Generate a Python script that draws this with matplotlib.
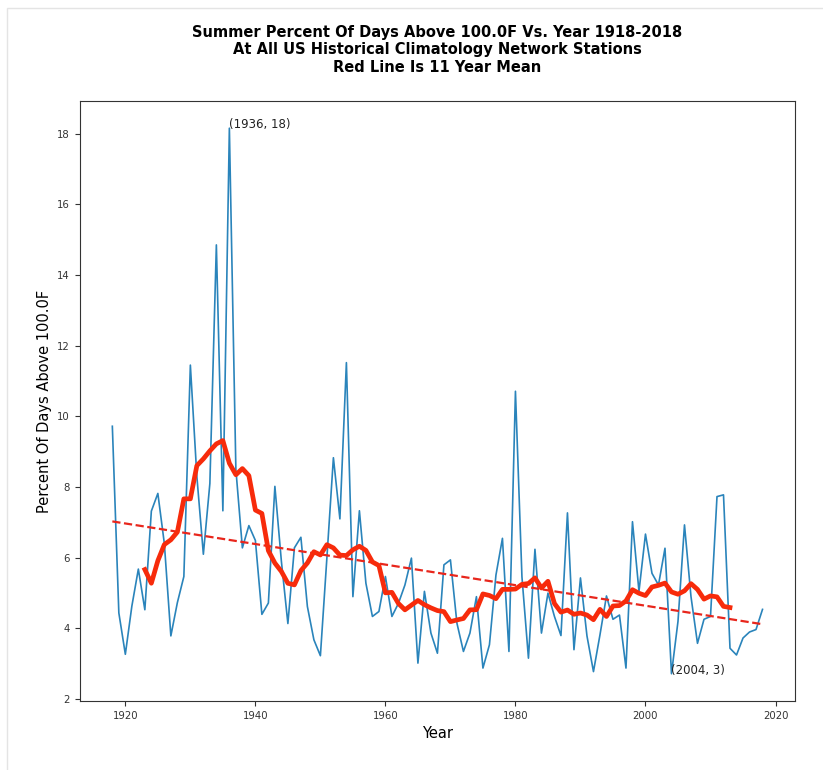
import numpy as np
import pandas as pd
import matplotlib
matplotlib.use("Agg")
import matplotlib.pyplot as plt
from matplotlib.patches import Rectangle

years = list(range(1918, 2019))
pct_days = [
    9.72, 4.44, 3.27, 4.63, 5.68, 4.53, 7.32, 7.82, 6.40, 3.79,   # 1918-1927
    4.73, 5.47, 11.45, 8.30, 6.10, 8.10, 14.85, 7.33, 18.15, 8.50,  # 1928-1937
    6.28, 6.91, 6.49, 4.40, 4.72, 8.02, 5.90, 4.14, 6.28, 6.58,   # 1938-1947
    4.62, 3.68, 3.23, 6.00, 8.83, 7.10, 11.52, 4.90, 7.33, 5.28,  # 1948-1957
    4.34, 4.48, 5.47, 4.34, 4.71, 5.23, 5.99, 3.02, 5.05, 3.87,   # 1958-1967
    3.30, 5.80, 5.94, 4.15, 3.35, 3.87, 4.90, 2.88, 3.54, 5.51,   # 1968-1977
    6.55, 3.35, 10.71, 5.46, 3.16, 6.24, 3.87, 5.00, 4.34, 3.80,  # 1978-1987
    7.27, 3.40, 5.43, 3.79, 2.78, 3.82, 4.92, 4.26, 4.38, 2.88,   # 1988-1997
    7.02, 5.05, 6.67, 5.56, 5.23, 6.27, 2.72, 4.20, 6.93, 4.90,   # 1998-2007
    3.58, 4.26, 4.34, 7.73, 7.78, 3.44, 3.25, 3.73, 3.90, 3.97,   # 2008-2017
    4.54,                                                         # 2018
]
window = 11

title = ("Summer Percent Of Days Above 100.0F Vs. Year 1918-2018\n"
         "At All US Historical Climatology Network Stations\n"
         "Red Line Is 11 Year Mean")

s = pd.Series(pct_days, index=years)
mean11 = s.rolling(window, center=True).mean()
fit = np.polyfit(years, pct_days, 1)
trend = np.polyval(fit, years)

fig = plt.figure(figsize=(8.23, 7.70), dpi=100)
ax = fig.add_axes([0.097, 0.0896, 0.869, 0.7793])

# faint frame like the screenshot border
fig.patches.append(Rectangle((0.008, -0.01), 1.1, 1.0, transform=fig.transFigure,
                             fill=False, edgecolor="#e4e4e4", lw=1))

ax.plot(s.index, s.values, color="#2a84bb", lw=1.2)
ax.plot(years, trend, "--", color="#e8261c", lw=1.6)
ax.plot(mean11.index, mean11.values, color="#f72b0b", lw=3.4)

ymax = s.idxmax()
ymin = s.idxmin()
ax.annotate("(%d, %d)" % (ymax, round(s[ymax])), xy=(ymax, s[ymax]), fontsize=8.5, color="#222222")
ax.annotate("(%d, %d)" % (ymin, round(s[ymin])), xy=(ymin, s[ymin]), fontsize=8.5, color="#222222")

ax.set_title(title, fontsize=10.5, fontweight="bold", pad=21, linespacing=1.2)
ax.set_xlabel("Year", fontsize=10.5)
ax.set_ylabel("Percent Of Days Above 100.0F", fontsize=10.5)
ax.tick_params(labelsize=7.3, colors="#333333", length=3.5)
for sp in ax.spines.values():
    sp.set_color("#333333")
    sp.set_linewidth(0.8)

fig.savefig("out.png", dpi=100)
